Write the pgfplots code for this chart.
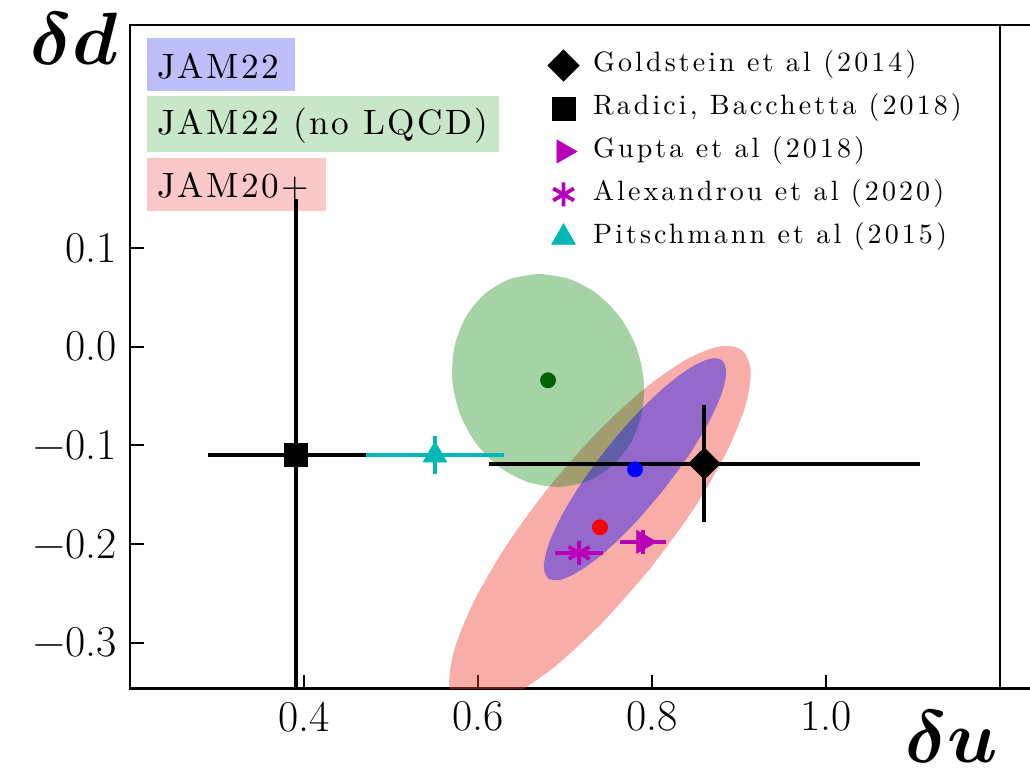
\documentclass[border=0pt]{standalone}
\usepackage{amsmath}
\usepackage{graphicx}
\usepackage{fontspec}
\usepackage{pgfplots}
\pgfplotsset{compat=1.18}
\newfontfamily\legfont{lmroman10-regular.otf}[LetterSpace=11]
\newfontfamily\boxfont{lmroman10-regular.otf}[LetterSpace=7]
\definecolor{mymag}{rgb}{0.72,0,0.72}
\definecolor{mycyan}{rgb}{0,0.72,0.72}
\definecolor{dgreen}{rgb}{0,0.39,0}
\definecolor{mplgreen}{rgb}{0,0.5,0}
\definecolor{salmon}{RGB}{240,60,50}
\definecolor{boxblue}{RGB}{190,190,250}
\definecolor{boxgreen}{RGB}{200,230,200}
\definecolor{boxred}{RGB}{250,200,200}
\begin{document}
\begin{tikzpicture}
\begin{axis}[
  scale only axis, width=435pt, height=331.9pt,
  xmin=0.2, xmax=1.2, ymin=-0.3466, ymax=0.326,
  xtick={0.4,0.6,0.8,1.0}, ytick={-0.3,-0.2,-0.1,0,0.1},
  xticklabels={0.4,0.6,0.8,1.0},
  yticklabels={−0.3,−0.2,−0.1,0.0,0.1},
  tick align=inside, xtick pos=bottom, ytick pos=left, major tick length=7pt,
  tick style={black, line width=1pt},
  axis line style={line width=1.35pt},
  tick label style={font=\fontsize{22}{26}\selectfont},
  xticklabel style={yshift=-3pt},
  yticklabel style={xshift=-3pt},
  legend style={at={(0.4800,0.966)}, anchor=north west, draw=none, fill=none,
    inner sep=0pt, font=\fontsize{14}{16}\legfont, row sep=4pt,
    nodes={inner xsep=7pt, inner ysep=2pt, text depth=3.5pt, text height=10pt}},
  legend cell align=left,
]
\coordinate (sw) at (rel axis cs:0,0);
\coordinate (se) at (rel axis cs:1,0);
\coordinate (nw) at (rel axis cs:0,1);
\coordinate (ne) at (rel axis cs:1,1);

\node[anchor=north west, fill=boxblue, minimum width=74pt, minimum height=26.7pt, inner sep=0pt] (b1) at (rel axis cs:0.0192,0.9815) {};
\node[anchor=west, inner sep=0pt, font=\fontsize{17.6}{20}\boxfont] at ([xshift=5pt,yshift=-1pt]b1.west) {JAM22};
\node[anchor=north west, fill=boxgreen, minimum width=176pt, minimum height=28pt, inner sep=0pt] (b2) at (rel axis cs:0.0192,0.8935) {};
\node[anchor=west, inner sep=0pt, font=\fontsize{17.6}{20}\boxfont] at ([xshift=5pt,yshift=-1pt]b2.west) {JAM22 (no LQCD)};
\node[anchor=north west, fill=boxred, minimum width=89.5pt, minimum height=26.8pt, inner sep=0pt] (b3) at (rel axis cs:0.0192,0.8007) {};
\node[anchor=west, inner sep=0pt, font=\fontsize{17.6}{20}\boxfont] at ([xshift=5pt,yshift=-1pt]b3.west) {JAM20+};

% JAM20+ ellipse
\addplot[draw=none, mark=none, fill=salmon, fill opacity=0.42, smooth, forget plot] coordinates {
(0.7985,-0.2242) (0.7451,-0.2776) (0.6914,-0.3218) (0.6424,-0.3523) (0.6029,-0.3663)
(0.5769,-0.3624) (0.5669,-0.3409) (0.5738,-0.3039) (0.5970,-0.2552) (0.6343,-0.1992)
(0.6819,-0.1418) (0.7353,-0.0884) (0.7890,-0.0442) (0.8380,-0.0137) (0.8775,0.0003)
(0.9035,-0.0036) (0.9135,-0.0251) (0.9066,-0.0621) (0.8834,-0.1108) (0.8461,-0.1668)
(0.7985,-0.2242)};
% JAM22 (no LQCD) ellipse
\addplot[draw=none, mark=none, fill=mplgreen, fill opacity=0.35, smooth, forget plot] coordinates {
(0.6705,0.0740) (0.6370,0.0687) (0.6077,0.0534) (0.5856,0.0295) (0.5728,-0.0006)
(0.5705,-0.0340) (0.5790,-0.0674) (0.5974,-0.0975) (0.6239,-0.1214) (0.6560,-0.1367)
(0.6905,-0.1420) (0.7240,-0.1367) (0.7533,-0.1214) (0.7754,-0.0975) (0.7882,-0.0674)
(0.7905,-0.0340) (0.7820,-0.0006) (0.7636,0.0295) (0.7371,0.0534) (0.7050,0.0687)
(0.6705,0.0740)};
% JAM22 ellipse
\addplot[draw=none, mark=none, fill=blue, fill opacity=0.40, smooth, forget plot] coordinates {
(0.8120,-0.1464) (0.7796,-0.1794) (0.7472,-0.2071) (0.7181,-0.2265) (0.6951,-0.2361)
(0.6805,-0.2346) (0.6757,-0.2223) (0.6811,-0.2005) (0.6962,-0.1711) (0.7196,-0.1372)
(0.7490,-0.1020) (0.7814,-0.0690) (0.8138,-0.0413) (0.8429,-0.0219) (0.8659,-0.0123)
(0.8805,-0.0138) (0.8853,-0.0261) (0.8799,-0.0479) (0.8648,-0.0773) (0.8414,-0.1112)
(0.8120,-0.1464)};
% central values
\addplot[only marks, mark=*, mark size=3.75pt, color=dgreen, forget plot] coordinates {(0.6805,-0.034)};
\addplot[only marks, mark=*, mark size=3.75pt, color=blue, forget plot] coordinates {(0.7805,-0.1242)};
\addplot[only marks, mark=*, mark size=3.75pt, color=red, forget plot] coordinates {(0.7402,-0.1830)};

% external results
\addplot[only marks, black, mark=square*, mark size=5.5pt, mark options={rotate=45},
  error bars/.cd, x dir=both, x explicit, y dir=both, y explicit, error mark=none,
  error bar style={line width=2pt}] coordinates {(0.8602,-0.1184) +- (0.248,0.0596)};
\addlegendentry{Goldstein et al (2014)}
\addplot[only marks, black, mark=square*, mark size=5.75pt,
  error bars/.cd, x dir=both, x explicit, y dir=both, y explicit, error mark=none,
  error bar style={line width=2pt}] coordinates {(0.3906,-0.110) +- (0.1006,0.26)};
\addlegendentry{Radici, Bacchetta (2018)}
\addplot[only marks, mymag, mark=triangle*, mark size=6.6pt, mark options={rotate=-90},
  error bars/.cd, x dir=both, x explicit, y dir=both, y explicit, error mark=none,
  error bar style={line width=2pt}] coordinates {(0.790,-0.1977) +- (0.0264,0.012)};
\addlegendentry{Gupta et al (2018)}
\addplot[only marks, mymag, mark=asterisk, mark size=6pt, mark options={line width=1.9pt},
  error bars/.cd, x dir=both, x explicit, y dir=both, y explicit, error mark=none,
  error bar style={line width=2pt}] coordinates {(0.7163,-0.2089) +- (0.0278,0.011)};
\addlegendentry{Alexandrou et al (2020)}
\addplot[only marks, mycyan, mark=triangle*, mark size=6.8pt,
  error bars/.cd, x dir=both, x explicit, y dir=both, y explicit, error mark=none,
  error bar style={line width=2pt}] coordinates {(0.5506,-0.110) +- (0.0793,0.0194)};
\addlegendentry{Pitschmann et al (2015)}
\end{axis}
\draw[line width=1.35pt] (ne) -- ++(15pt,0);
\draw[line width=1.35pt] (se) -- ++(15pt,0);
\node[anchor=base east, inner sep=0pt] at ([shift={(-6pt,-19.5pt)}]nw) {\scalebox{1.49}{\fontsize{24.88}{30}\selectfont$\boldsymbol{\delta d}$}};
\node[anchor=base east, inner sep=0pt] at ([shift={(-1pt,-37pt)}]se) {\scalebox{1.49}{\fontsize{24.88}{30}\selectfont$\boldsymbol{\delta u}$}};
\pgfresetboundingbox
\path[use as bounding box] ([shift={(-65pt,-41.5pt)}]sw) rectangle ([shift={(15pt,12.5pt)}]ne);
\end{tikzpicture}
\end{document}
